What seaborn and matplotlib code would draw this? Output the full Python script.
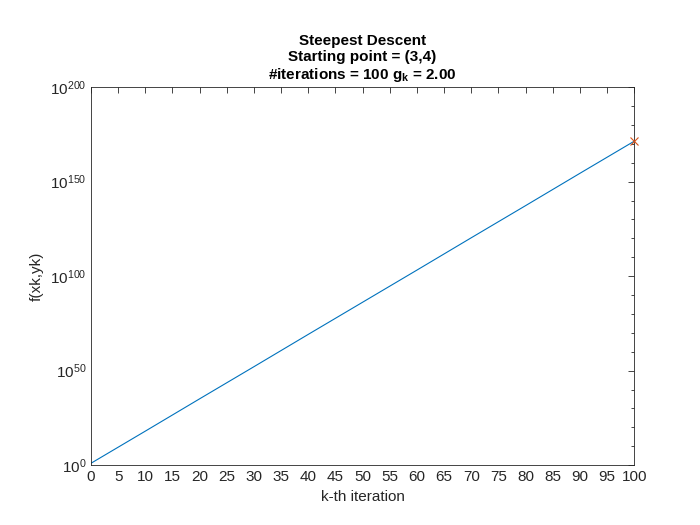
import numpy as np
import matplotlib
matplotlib.use("Agg")
import matplotlib.pyplot as plt
import seaborn as sns
from matplotlib.ticker import FixedLocator, NullFormatter

# values (log10 of f at every 10th iteration)
iters = [0, 10, 20, 30, 40, 50, 60, 70, 80, 90, 100]
log_f = [1.0, 18.0, 35.1, 52.1, 69.2, 86.2, 103.2, 120.3, 137.3, 154.4, 171.4]
last_k = 100
last_logf = 171.4

sns.set_theme(style="white")
plt.rcParams['font.family'] = ['Arial', 'Liberation Sans', 'DejaVu Sans']
plt.rcParams['mathtext.fontset'] = 'custom'
plt.rcParams['mathtext.bf'] = 'Liberation Sans:bold'
plt.rcParams['mathtext.rm'] = 'Liberation Sans'
plt.rcParams['mathtext.it'] = 'Liberation Sans'

fig = plt.figure(figsize=(7, 5.25), dpi=100)
ax = fig.add_axes([0.13, 0.114, 0.776, 0.72])

f_vals = [10.0 ** v for v in log_f]
sns.lineplot(x=iters, y=f_vals, ax=ax, color="#0072BD", linewidth=0.8)
ax.plot([last_k], [10.0 ** last_logf], marker="x", color="#D95319",
        markersize=6, linestyle="none", markeredgewidth=0.8, clip_on=False, zorder=5)

ax.set_yscale("log")
ax.set_xlim(0, 100)
ax.set_ylim(1, 1e200)
ax.set_xticks(range(0, 101, 5))
ax.yaxis.set_major_locator(FixedLocator([1, 1e50, 1e100, 1e150, 1e200]))
ax.yaxis.set_minor_locator(FixedLocator([10.0 ** e for e in range(0, 201, 10)]))
ax.yaxis.set_minor_formatter(NullFormatter())
ax.set_yticklabels(["$10^{0}$", "$10^{50}$", "$10^{100}$", "$10^{150}$", "$10^{200}$"])

ax.tick_params(direction="in", top=True, right=True, which="both",
               length=4, width=0.6, colors="#262626", labelsize=11)
ax.tick_params(which="minor", length=2)
for s in ax.spines.values():
    s.set_color("#262626")
    s.set_linewidth(0.6)

ax.set_xlabel("k-th iteration", fontsize=11, color="#262626")
ax.set_ylabel("f(xk,yk)", fontsize=11, color="#262626")
ax.set_title("Steepest Descent\nStarting point = (3,4)\n#iterations = 100 $\\mathbf{g_k}$ = 2.00",
             fontsize=11, fontweight="bold", color="black", linespacing=1.15)

fig.savefig("out.png", dpi=100)
